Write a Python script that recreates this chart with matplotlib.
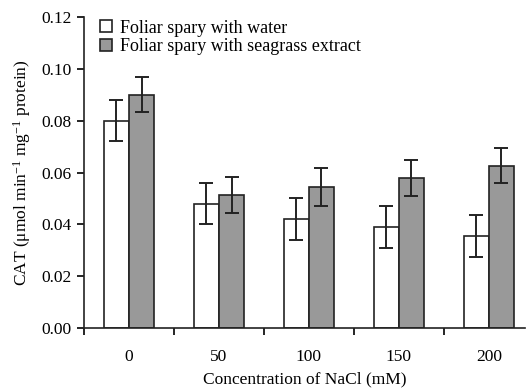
import numpy as np
import matplotlib.pyplot as plt

plt.rcParams['font.family'] = ['Liberation Serif', 'DejaVu Serif']
plt.rcParams['mathtext.fontset'] = 'custom'
plt.rcParams['mathtext.rm'] = 'Liberation Serif'
plt.rcParams['mathtext.it'] = 'Liberation Serif:italic'

nacl = ['0', '50', '100', '150', '200']
water = [0.080, 0.048, 0.042, 0.039, 0.0355]
water_err = [0.008, 0.008, 0.008, 0.008, 0.008]
seagrass = [0.090, 0.0512, 0.0545, 0.0578, 0.0627]
seagrass_err = [0.0068, 0.007, 0.0073, 0.007, 0.0068]

fig = plt.figure(figsize=(5.26, 3.89), dpi=100)
ax = fig.add_axes([0.1597, 0.1568, 0.838, 0.7995])

x = np.arange(len(nacl))
w = 0.28
ekw = dict(elinewidth=1.4, capthick=1.4, ecolor='#222222')
ax.bar(x - w / 2, water, w, yerr=water_err, capsize=5, color='white',
       edgecolor='#222222', linewidth=1.2, error_kw=ekw,
       label='Foliar spary with water')
ax.bar(x + w / 2, seagrass, w, yerr=seagrass_err, capsize=5, color='#999999',
       edgecolor='#222222', linewidth=1.2, error_kw=ekw,
       label='Foliar spary with seagrass extract')

ax.set_xlim(-0.5, 4.4)
ax.set_ylim(0, 0.12)
ax.set_yticks(np.arange(0, 0.121, 0.02))
ax.set_yticklabels([f'{v:.2f}' for v in np.arange(0, 0.121, 0.02)])
ax.set_xticks(np.arange(len(nacl)) - 0.5)
ax.set_xticklabels([])
ax.set_xticks(x, minor=True)
ax.set_xticklabels(nacl, minor=True)
ax.tick_params(axis='x', which='major', length=5, width=1.2, direction='out')
ax.tick_params(axis='x', which='minor', length=0, pad=15, labelsize=12.5)
ax.tick_params(axis='y', length=5, width=1.2, direction='out', labelsize=12.5, pad=4)

for s in ['top', 'right']:
    ax.spines[s].set_visible(False)
for s in ['left', 'bottom']:
    ax.spines[s].set_linewidth(1.2)
    ax.spines[s].set_color('#222222')

ax.set_xlabel('Concentration of NaCl (mM)', fontsize=12.5, labelpad=5)
ax.set_ylabel('CAT (μmol min$^{-1}$ mg$^{-1}$ protein)', fontsize=12.5, labelpad=6)

ax.legend(loc='upper left', bbox_to_anchor=(0.02, 1.015), frameon=False,
          fontsize=13, handlelength=0.65, handleheight=0.65, handletextpad=0.45,
          labelspacing=0.1, borderaxespad=0)

fig.savefig('out.png', dpi=100)
